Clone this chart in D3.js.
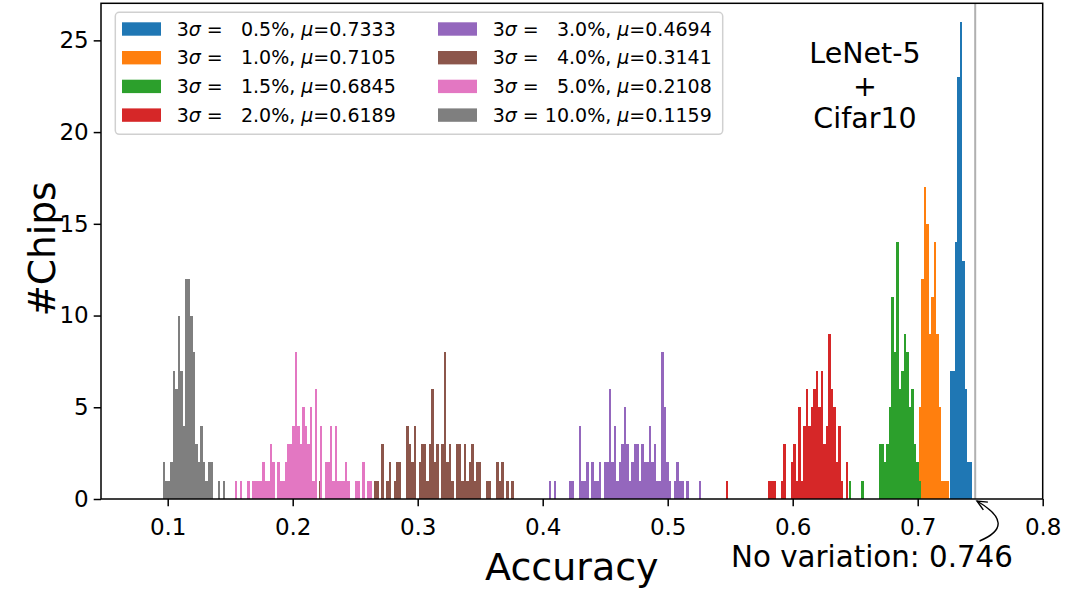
<!DOCTYPE html>
<html>
<head>
<meta charset="utf-8">
<script src="https://cdn.jsdelivr.net/npm/d3@7"></script>
<style>
  body { margin: 0; background: #fff; }
  svg { font-family: "DejaVu Sans", sans-serif; }
</style>
</head>
<body>
<div class="chipsViz"></div>
<script>
var binWidth = 0.002;

// series in drawing / legend order
var sigmas = [0.5, 1.0, 1.5, 2.0, 3.0, 4.0, 5.0, 10.0];
var means = [0.7333, 0.7105, 0.6845, 0.6189, 0.4694, 0.3141, 0.2108, 0.1159];
var colors = ["#1f77b4", "#ff7f0e", "#2ca02c", "#d62728", "#9467bd", "#8c564b", "#e377c2", "#7f7f7f"];
// left edge of the first bin of every histogram
var binStarts = [0.7258, 0.7010, 0.6450, 0.5466, 0.4050, 0.2210, 0.1538, 0.0962];

var counts05 = [7, 7, 14, 23, 26, 13, 6, 2, 2];
var counts10 = [5, 12, 17, 15, 9, 11, 14, 9, 5, 1, 1, 1];
var counts15 = [1, 0, 0, 0, 0, 1, 0, 0, 0, 0, 0, 0,
                3, 3, 2, 3, 5, 11, 8, 14, 6, 7, 9, 8, 5, 6, 3, 2, 1];
var counts20 = [1, 0, 0, 0, 0, 0, 0, 0, 0, 0, 0, 0, 0, 0, 0, 0, 0,
                1, 1, 1, 0, 0, 1, 3, 0, 0, 2, 3, 1, 5, 1, 4, 6, 4, 5, 6, 7,
                5, 7, 3, 4, 9, 6, 5, 2, 4, 1, 0, 2];
var counts30 = [1, 0, 1, 0, 0, 0, 0, 0, 1, 1, 0, 0, 4, 1, 1, 2, 0, 2, 1, 1,
                2, 0, 2, 2, 6, 2, 4, 1, 2, 3, 5, 3, 1, 2, 3, 3, 1, 3, 2, 2,
                4, 2, 3, 1, 1, 8, 5, 2, 1, 0, 1, 2, 1, 1, 0, 1, 0, 0, 0, 0, 1];
var counts40 = [1, 0, 0, 0, 0, 0, 0, 0, 0, 0, 0, 0, 0, 0, 0, 0, 0, 0, 0, 0, 0, 0,
                1, 1, 0, 3, 0, 1, 2, 0, 1, 2, 2, 0, 0, 4, 3, 2, 4, 0, 2, 3,
                3, 1, 3, 6, 2, 3, 0, 3, 8, 2, 3, 1, 0, 3, 3, 1, 3, 1, 2, 3,
                1, 2, 2, 0, 0, 1, 1, 0, 0, 2, 1, 2, 0, 1, 0, 1];
var counts50 = [1, 0, 1, 0, 0, 1, 0, 1, 1, 1, 1, 2, 1, 1, 3, 2, 0, 2, 1, 1,
                2, 3, 3, 4, 8, 4, 3, 5, 4, 3, 5, 1, 6, 0, 4, 0, 2, 2, 4, 1,
                4, 1, 1, 1, 2, 1, 0, 0, 1, 1, 0, 2, 0, 1, 1];
var counts100 = [2, 1, 1, 2, 7, 6, 10, 7, 4, 12, 12, 10, 8, 3, 2, 4, 2, 1, 2, 2,
                 0, 0, 1, 0, 1];

var xTicks = [0.1, 0.2, 0.3, 0.4, 0.5, 0.6, 0.7, 0.8];
var yTicks = [0, 5, 10, 15, 20, 25];
var noVariation = 0.746;

var allCounts = [counts05, counts10, counts15, counts20, counts30, counts40, counts50, counts100];

var width = 1065,
    height = 590,
    plotLeft = 101, plotRight = 1042.7, plotTop = 3.3, plotBottom = 499;

var x = d3.scaleLinear().domain([0.04664, 0.8]).range([plotLeft, plotRight]);
var y = d3.scaleLinear().domain([0, 27.02]).range([plotBottom, plotTop]);

var svg = d3.select(".chipsViz").append("svg")
    .attr("width", width)
    .attr("height", height);

var defs = svg.append("defs");
defs.append("marker")
    .attr("id", "arrowHead")
    .attr("markerUnits", "userSpaceOnUse")
    .attr("viewBox", "-12 -6 14 12")
    .attr("markerWidth", 14)
    .attr("markerHeight", 12)
    .attr("refX", 0)
    .attr("refY", 0)
    .attr("orient", "auto")
  .append("path")
    .attr("d", "M-10,-4.5L0,0L-10,4.5")
    .attr("fill", "none")
    .attr("stroke", "#000")
    .attr("stroke-width", 1.4);

// histograms, one group per sigma
allCounts.forEach(function(counts, s) {
  var bins = counts.map(function(n, i) {
    return {x0: binStarts[s] + i * binWidth, x1: binStarts[s] + (i + 1) * binWidth, n: n};
  }).filter(function(b) { return b.n > 0; });

  svg.append("g")
      .attr("fill", colors[s])
      .attr("shape-rendering", "crispEdges")
    .selectAll("rect")
    .data(bins)
    .enter()
    .append("rect")
      .attr("x", function(b) { return x(b.x0); })
      .attr("width", function(b) { return x(b.x1) - x(b.x0); })
      .attr("y", function(b) { return y(b.n); })
      .attr("height", function(b) { return y(0) - y(b.n); });
});

// accuracy without variation
svg.append("line")
    .attr("x1", x(noVariation))
    .attr("x2", x(noVariation))
    .attr("y1", plotTop)
    .attr("y2", plotBottom)
    .attr("stroke", "#b0b0b0")
    .attr("stroke-width", 2);

// axes
var xAxis = svg.append("g")
    .attr("transform", "translate(0," + plotBottom + ")")
    .call(d3.axisBottom(x).tickValues(xTicks).tickFormat(d3.format(".1f"))
      .tickSizeOuter(0).tickSize(7.3).tickPadding(12));
var yAxis = svg.append("g")
    .attr("transform", "translate(" + plotLeft + ",0)")
    .call(d3.axisLeft(y).tickValues(yTicks).tickSizeOuter(0).tickSize(7.3).tickPadding(5));

[xAxis, yAxis].forEach(function(g) {
  g.select(".domain").remove();
  g.selectAll(".tick line").attr("stroke", "#000").attr("stroke-width", 1.5);
  g.selectAll(".tick text")
      .attr("fill", "#000")
      .style("font-family", "DejaVu Sans")
      .style("font-size", "23px");
});

svg.append("rect")
    .attr("x", plotLeft)
    .attr("y", plotTop)
    .attr("width", plotRight - plotLeft)
    .attr("height", plotBottom - plotTop)
    .attr("fill", "none")
    .attr("stroke", "#000")
    .attr("stroke-width", 1.5);

svg.append("text")
    .attr("x", (plotLeft + plotRight) / 2)
    .attr("y", 580)
    .attr("text-anchor", "middle")
    .style("font-size", "38px")
    .text("Accuracy");

svg.append("text")
    .attr("transform", "translate(55,249) rotate(-90)")
    .attr("text-anchor", "middle")
    .style("font-size", "37.5px")
    .text("#Chips");

// model / dataset title
var title = svg.append("text")
    .attr("text-anchor", "middle")
    .style("font-size", "28.5px");
["LeNet-5", "+", "Cifar10"].forEach(function(t, i) {
  title.append("tspan")
      .attr("x", 865)
      .attr("y", 63 + i * 32.5)
      .text(t);
});

// annotation
svg.append("text")
    .attr("x", 872)
    .attr("y", 567)
    .attr("text-anchor", "middle")
    .style("font-size", "29.3px")
    .text("No variation: " + noVariation);

var arrow = d3.path();
arrow.moveTo(979.5, 541);
arrow.quadraticCurveTo(1018, 525, 977, 501);
svg.append("path")
    .attr("d", arrow.toString())
    .attr("fill", "none")
    .attr("stroke", "#000")
    .attr("stroke-width", 1.4)
    .attr("marker-end", "url(#arrowHead)");

// legend
var legend = svg.append("g");
legend.append("rect")
    .attr("x", 115.3)
    .attr("y", 12.3)
    .attr("width", 607.4)
    .attr("height", 122)
    .attr("rx", 4)
    .attr("fill", "#fff")
    .attr("fill-opacity", 0.8)
    .attr("stroke", "#d0d0d0")
    .attr("stroke-width", 1.5);

var pctFormat = d3.format(".1f");
var colX = [122, 438];
sigmas.forEach(function(sig, i) {
  var cx = colX[Math.floor(i / 4)],
      rowY = 22.3 + (i % 4) * 28.7;
  legend.append("rect")
      .attr("x", cx)
      .attr("y", rowY)
      .attr("width", 39)
      .attr("height", 13.4)
      .attr("fill", colors[i]);

  var p = pctFormat(sig);
  while (p.length < 4) p = "\u2007" + p;

  var label = legend.append("text")
      .attr("x", cx + 54.7)
      .attr("y", rowY + 13.4)
      .style("font-size", "19px")
      .style("white-space", "pre");
  label.append("tspan").text("3");
  label.append("tspan").style("font-style", "italic").text("\u03c3");
  label.append("tspan").text(" = " + p + "%, ");
  label.append("tspan").style("font-style", "italic").text("\u03bc");
  label.append("tspan").text("=" + means[i].toFixed(4));
});
</script>
</body>
</html>
